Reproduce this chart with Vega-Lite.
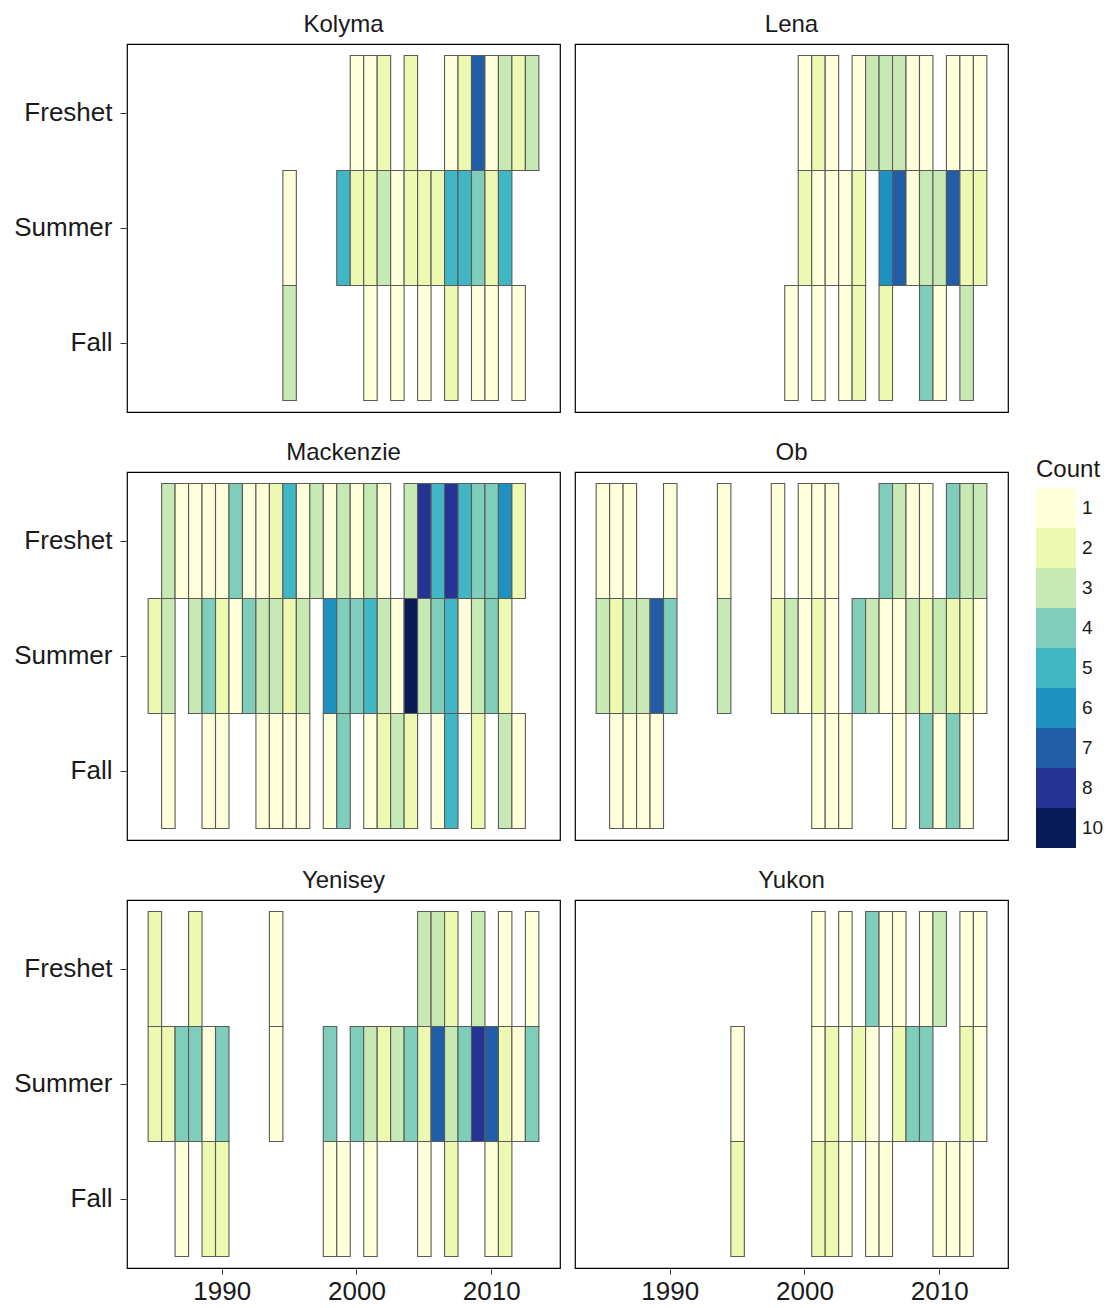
{
  "$schema": "https://vega.github.io/schema/vega-lite/v6.json",
  "padding": {"left": 13, "top": 12, "right": 5, "bottom": 5},
  "background": "white",
  "data": {"values": [
    {"River":"Kolyma","Season":"Freshet","Year":2000,"Count":1},{"River":"Kolyma","Season":"Freshet","Year":2001,"Count":1},{"River":"Kolyma","Season":"Freshet","Year":2002,"Count":2},{"River":"Kolyma","Season":"Freshet","Year":2004,"Count":2},{"River":"Kolyma","Season":"Freshet","Year":2007,"Count":1},{"River":"Kolyma","Season":"Freshet","Year":2008,"Count":2},{"River":"Kolyma","Season":"Freshet","Year":2009,"Count":7},{"River":"Kolyma","Season":"Freshet","Year":2010,"Count":1},{"River":"Kolyma","Season":"Freshet","Year":2011,"Count":3},{"River":"Kolyma","Season":"Freshet","Year":2012,"Count":2},{"River":"Kolyma","Season":"Freshet","Year":2013,"Count":3},
    {"River":"Kolyma","Season":"Summer","Year":1995,"Count":1},{"River":"Kolyma","Season":"Summer","Year":1999,"Count":5},{"River":"Kolyma","Season":"Summer","Year":2000,"Count":2},{"River":"Kolyma","Season":"Summer","Year":2001,"Count":2},{"River":"Kolyma","Season":"Summer","Year":2002,"Count":3},{"River":"Kolyma","Season":"Summer","Year":2003,"Count":1},{"River":"Kolyma","Season":"Summer","Year":2004,"Count":2},{"River":"Kolyma","Season":"Summer","Year":2005,"Count":2},{"River":"Kolyma","Season":"Summer","Year":2006,"Count":2},{"River":"Kolyma","Season":"Summer","Year":2007,"Count":5},{"River":"Kolyma","Season":"Summer","Year":2008,"Count":5},{"River":"Kolyma","Season":"Summer","Year":2009,"Count":4},{"River":"Kolyma","Season":"Summer","Year":2010,"Count":2},{"River":"Kolyma","Season":"Summer","Year":2011,"Count":5},
    {"River":"Kolyma","Season":"Fall","Year":1995,"Count":3},{"River":"Kolyma","Season":"Fall","Year":2001,"Count":1},{"River":"Kolyma","Season":"Fall","Year":2003,"Count":1},{"River":"Kolyma","Season":"Fall","Year":2005,"Count":1},{"River":"Kolyma","Season":"Fall","Year":2007,"Count":2},{"River":"Kolyma","Season":"Fall","Year":2009,"Count":1},{"River":"Kolyma","Season":"Fall","Year":2010,"Count":1},{"River":"Kolyma","Season":"Fall","Year":2012,"Count":1},
    {"River":"Lena","Season":"Freshet","Year":2000,"Count":1},{"River":"Lena","Season":"Freshet","Year":2001,"Count":2},{"River":"Lena","Season":"Freshet","Year":2002,"Count":1},{"River":"Lena","Season":"Freshet","Year":2004,"Count":1},{"River":"Lena","Season":"Freshet","Year":2005,"Count":3},{"River":"Lena","Season":"Freshet","Year":2006,"Count":3},{"River":"Lena","Season":"Freshet","Year":2007,"Count":3},{"River":"Lena","Season":"Freshet","Year":2008,"Count":1},{"River":"Lena","Season":"Freshet","Year":2009,"Count":1},{"River":"Lena","Season":"Freshet","Year":2011,"Count":1},{"River":"Lena","Season":"Freshet","Year":2012,"Count":1},{"River":"Lena","Season":"Freshet","Year":2013,"Count":1},
    {"River":"Lena","Season":"Summer","Year":2000,"Count":2},{"River":"Lena","Season":"Summer","Year":2001,"Count":1},{"River":"Lena","Season":"Summer","Year":2002,"Count":1},{"River":"Lena","Season":"Summer","Year":2003,"Count":1},{"River":"Lena","Season":"Summer","Year":2004,"Count":2},{"River":"Lena","Season":"Summer","Year":2006,"Count":6},{"River":"Lena","Season":"Summer","Year":2007,"Count":7},{"River":"Lena","Season":"Summer","Year":2008,"Count":1},{"River":"Lena","Season":"Summer","Year":2009,"Count":3},{"River":"Lena","Season":"Summer","Year":2010,"Count":3},{"River":"Lena","Season":"Summer","Year":2011,"Count":7},{"River":"Lena","Season":"Summer","Year":2012,"Count":2},{"River":"Lena","Season":"Summer","Year":2013,"Count":2},
    {"River":"Lena","Season":"Fall","Year":1999,"Count":1},{"River":"Lena","Season":"Fall","Year":2001,"Count":1},{"River":"Lena","Season":"Fall","Year":2003,"Count":1},{"River":"Lena","Season":"Fall","Year":2004,"Count":2},{"River":"Lena","Season":"Fall","Year":2006,"Count":2},{"River":"Lena","Season":"Fall","Year":2009,"Count":4},{"River":"Lena","Season":"Fall","Year":2010,"Count":1},{"River":"Lena","Season":"Fall","Year":2012,"Count":3},
    {"River":"Mackenzie","Season":"Freshet","Year":1986,"Count":3},{"River":"Mackenzie","Season":"Freshet","Year":1987,"Count":1},{"River":"Mackenzie","Season":"Freshet","Year":1988,"Count":1},{"River":"Mackenzie","Season":"Freshet","Year":1989,"Count":1},{"River":"Mackenzie","Season":"Freshet","Year":1990,"Count":1},{"River":"Mackenzie","Season":"Freshet","Year":1991,"Count":4},{"River":"Mackenzie","Season":"Freshet","Year":1992,"Count":1},{"River":"Mackenzie","Season":"Freshet","Year":1993,"Count":1},{"River":"Mackenzie","Season":"Freshet","Year":1994,"Count":2},{"River":"Mackenzie","Season":"Freshet","Year":1995,"Count":5},{"River":"Mackenzie","Season":"Freshet","Year":1996,"Count":1},{"River":"Mackenzie","Season":"Freshet","Year":1997,"Count":3},{"River":"Mackenzie","Season":"Freshet","Year":1998,"Count":1},{"River":"Mackenzie","Season":"Freshet","Year":1999,"Count":3},{"River":"Mackenzie","Season":"Freshet","Year":2000,"Count":1},{"River":"Mackenzie","Season":"Freshet","Year":2001,"Count":3},{"River":"Mackenzie","Season":"Freshet","Year":2002,"Count":1},{"River":"Mackenzie","Season":"Freshet","Year":2004,"Count":3},{"River":"Mackenzie","Season":"Freshet","Year":2005,"Count":8},{"River":"Mackenzie","Season":"Freshet","Year":2006,"Count":5},{"River":"Mackenzie","Season":"Freshet","Year":2007,"Count":8},{"River":"Mackenzie","Season":"Freshet","Year":2008,"Count":5},{"River":"Mackenzie","Season":"Freshet","Year":2009,"Count":4},{"River":"Mackenzie","Season":"Freshet","Year":2010,"Count":4},{"River":"Mackenzie","Season":"Freshet","Year":2011,"Count":6},{"River":"Mackenzie","Season":"Freshet","Year":2012,"Count":2},
    {"River":"Mackenzie","Season":"Summer","Year":1985,"Count":2},{"River":"Mackenzie","Season":"Summer","Year":1986,"Count":3},{"River":"Mackenzie","Season":"Summer","Year":1988,"Count":3},{"River":"Mackenzie","Season":"Summer","Year":1989,"Count":4},{"River":"Mackenzie","Season":"Summer","Year":1990,"Count":2},{"River":"Mackenzie","Season":"Summer","Year":1991,"Count":1},{"River":"Mackenzie","Season":"Summer","Year":1992,"Count":4},{"River":"Mackenzie","Season":"Summer","Year":1993,"Count":3},{"River":"Mackenzie","Season":"Summer","Year":1994,"Count":3},{"River":"Mackenzie","Season":"Summer","Year":1995,"Count":2},{"River":"Mackenzie","Season":"Summer","Year":1996,"Count":3},{"River":"Mackenzie","Season":"Summer","Year":1998,"Count":6},{"River":"Mackenzie","Season":"Summer","Year":1999,"Count":4},{"River":"Mackenzie","Season":"Summer","Year":2000,"Count":4},{"River":"Mackenzie","Season":"Summer","Year":2001,"Count":5},{"River":"Mackenzie","Season":"Summer","Year":2002,"Count":3},{"River":"Mackenzie","Season":"Summer","Year":2003,"Count":1},{"River":"Mackenzie","Season":"Summer","Year":2004,"Count":10},{"River":"Mackenzie","Season":"Summer","Year":2005,"Count":3},{"River":"Mackenzie","Season":"Summer","Year":2006,"Count":4},{"River":"Mackenzie","Season":"Summer","Year":2007,"Count":5},{"River":"Mackenzie","Season":"Summer","Year":2008,"Count":1},{"River":"Mackenzie","Season":"Summer","Year":2009,"Count":3},{"River":"Mackenzie","Season":"Summer","Year":2010,"Count":4},{"River":"Mackenzie","Season":"Summer","Year":2011,"Count":2},
    {"River":"Mackenzie","Season":"Fall","Year":1986,"Count":1},{"River":"Mackenzie","Season":"Fall","Year":1989,"Count":1},{"River":"Mackenzie","Season":"Fall","Year":1990,"Count":1},{"River":"Mackenzie","Season":"Fall","Year":1993,"Count":1},{"River":"Mackenzie","Season":"Fall","Year":1994,"Count":1},{"River":"Mackenzie","Season":"Fall","Year":1995,"Count":1},{"River":"Mackenzie","Season":"Fall","Year":1996,"Count":1},{"River":"Mackenzie","Season":"Fall","Year":1998,"Count":1},{"River":"Mackenzie","Season":"Fall","Year":1999,"Count":4},{"River":"Mackenzie","Season":"Fall","Year":2001,"Count":1},{"River":"Mackenzie","Season":"Fall","Year":2002,"Count":2},{"River":"Mackenzie","Season":"Fall","Year":2003,"Count":3},{"River":"Mackenzie","Season":"Fall","Year":2004,"Count":2},{"River":"Mackenzie","Season":"Fall","Year":2006,"Count":1},{"River":"Mackenzie","Season":"Fall","Year":2007,"Count":5},{"River":"Mackenzie","Season":"Fall","Year":2009,"Count":2},{"River":"Mackenzie","Season":"Fall","Year":2011,"Count":3},{"River":"Mackenzie","Season":"Fall","Year":2012,"Count":1},
    {"River":"Ob","Season":"Freshet","Year":1985,"Count":1},{"River":"Ob","Season":"Freshet","Year":1986,"Count":1},{"River":"Ob","Season":"Freshet","Year":1987,"Count":1},{"River":"Ob","Season":"Freshet","Year":1990,"Count":1},{"River":"Ob","Season":"Freshet","Year":1994,"Count":1},{"River":"Ob","Season":"Freshet","Year":1998,"Count":1},{"River":"Ob","Season":"Freshet","Year":2000,"Count":1},{"River":"Ob","Season":"Freshet","Year":2001,"Count":1},{"River":"Ob","Season":"Freshet","Year":2002,"Count":1},{"River":"Ob","Season":"Freshet","Year":2006,"Count":4},{"River":"Ob","Season":"Freshet","Year":2007,"Count":3},{"River":"Ob","Season":"Freshet","Year":2008,"Count":1},{"River":"Ob","Season":"Freshet","Year":2009,"Count":1},{"River":"Ob","Season":"Freshet","Year":2011,"Count":4},{"River":"Ob","Season":"Freshet","Year":2012,"Count":3},{"River":"Ob","Season":"Freshet","Year":2013,"Count":3},
    {"River":"Ob","Season":"Summer","Year":1985,"Count":3},{"River":"Ob","Season":"Summer","Year":1986,"Count":2},{"River":"Ob","Season":"Summer","Year":1987,"Count":3},{"River":"Ob","Season":"Summer","Year":1988,"Count":3},{"River":"Ob","Season":"Summer","Year":1989,"Count":7},{"River":"Ob","Season":"Summer","Year":1990,"Count":4},{"River":"Ob","Season":"Summer","Year":1994,"Count":3},{"River":"Ob","Season":"Summer","Year":1998,"Count":2},{"River":"Ob","Season":"Summer","Year":1999,"Count":3},{"River":"Ob","Season":"Summer","Year":2000,"Count":1},{"River":"Ob","Season":"Summer","Year":2001,"Count":2},{"River":"Ob","Season":"Summer","Year":2002,"Count":1},{"River":"Ob","Season":"Summer","Year":2004,"Count":4},{"River":"Ob","Season":"Summer","Year":2005,"Count":3},{"River":"Ob","Season":"Summer","Year":2006,"Count":1},{"River":"Ob","Season":"Summer","Year":2007,"Count":1},{"River":"Ob","Season":"Summer","Year":2008,"Count":3},{"River":"Ob","Season":"Summer","Year":2009,"Count":2},{"River":"Ob","Season":"Summer","Year":2010,"Count":3},{"River":"Ob","Season":"Summer","Year":2011,"Count":2},{"River":"Ob","Season":"Summer","Year":2012,"Count":2},{"River":"Ob","Season":"Summer","Year":2013,"Count":1},
    {"River":"Ob","Season":"Fall","Year":1986,"Count":1},{"River":"Ob","Season":"Fall","Year":1987,"Count":1},{"River":"Ob","Season":"Fall","Year":1988,"Count":1},{"River":"Ob","Season":"Fall","Year":1989,"Count":1},{"River":"Ob","Season":"Fall","Year":2001,"Count":1},{"River":"Ob","Season":"Fall","Year":2002,"Count":1},{"River":"Ob","Season":"Fall","Year":2003,"Count":1},{"River":"Ob","Season":"Fall","Year":2007,"Count":1},{"River":"Ob","Season":"Fall","Year":2009,"Count":4},{"River":"Ob","Season":"Fall","Year":2010,"Count":1},{"River":"Ob","Season":"Fall","Year":2011,"Count":4},{"River":"Ob","Season":"Fall","Year":2012,"Count":1},
    {"River":"Yenisey","Season":"Freshet","Year":1985,"Count":2},{"River":"Yenisey","Season":"Freshet","Year":1988,"Count":2},{"River":"Yenisey","Season":"Freshet","Year":1994,"Count":1},{"River":"Yenisey","Season":"Freshet","Year":2005,"Count":3},{"River":"Yenisey","Season":"Freshet","Year":2006,"Count":3},{"River":"Yenisey","Season":"Freshet","Year":2007,"Count":2},{"River":"Yenisey","Season":"Freshet","Year":2009,"Count":3},{"River":"Yenisey","Season":"Freshet","Year":2011,"Count":1},{"River":"Yenisey","Season":"Freshet","Year":2013,"Count":1},
    {"River":"Yenisey","Season":"Summer","Year":1985,"Count":2},{"River":"Yenisey","Season":"Summer","Year":1986,"Count":2},{"River":"Yenisey","Season":"Summer","Year":1987,"Count":4},{"River":"Yenisey","Season":"Summer","Year":1988,"Count":4},{"River":"Yenisey","Season":"Summer","Year":1989,"Count":1},{"River":"Yenisey","Season":"Summer","Year":1990,"Count":4},{"River":"Yenisey","Season":"Summer","Year":1994,"Count":1},{"River":"Yenisey","Season":"Summer","Year":1998,"Count":4},{"River":"Yenisey","Season":"Summer","Year":2000,"Count":4},{"River":"Yenisey","Season":"Summer","Year":2001,"Count":3},{"River":"Yenisey","Season":"Summer","Year":2002,"Count":2},{"River":"Yenisey","Season":"Summer","Year":2003,"Count":3},{"River":"Yenisey","Season":"Summer","Year":2004,"Count":4},{"River":"Yenisey","Season":"Summer","Year":2005,"Count":2},{"River":"Yenisey","Season":"Summer","Year":2006,"Count":7},{"River":"Yenisey","Season":"Summer","Year":2007,"Count":3},{"River":"Yenisey","Season":"Summer","Year":2008,"Count":4},{"River":"Yenisey","Season":"Summer","Year":2009,"Count":8},{"River":"Yenisey","Season":"Summer","Year":2010,"Count":7},{"River":"Yenisey","Season":"Summer","Year":2011,"Count":2},{"River":"Yenisey","Season":"Summer","Year":2012,"Count":1},{"River":"Yenisey","Season":"Summer","Year":2013,"Count":4},
    {"River":"Yenisey","Season":"Fall","Year":1987,"Count":1},{"River":"Yenisey","Season":"Fall","Year":1989,"Count":2},{"River":"Yenisey","Season":"Fall","Year":1990,"Count":2},{"River":"Yenisey","Season":"Fall","Year":1998,"Count":1},{"River":"Yenisey","Season":"Fall","Year":1999,"Count":1},{"River":"Yenisey","Season":"Fall","Year":2001,"Count":1},{"River":"Yenisey","Season":"Fall","Year":2005,"Count":1},{"River":"Yenisey","Season":"Fall","Year":2007,"Count":2},{"River":"Yenisey","Season":"Fall","Year":2010,"Count":1},{"River":"Yenisey","Season":"Fall","Year":2011,"Count":2},
    {"River":"Yukon","Season":"Freshet","Year":2001,"Count":1},{"River":"Yukon","Season":"Freshet","Year":2003,"Count":1},{"River":"Yukon","Season":"Freshet","Year":2005,"Count":4},{"River":"Yukon","Season":"Freshet","Year":2006,"Count":1},{"River":"Yukon","Season":"Freshet","Year":2007,"Count":1},{"River":"Yukon","Season":"Freshet","Year":2009,"Count":1},{"River":"Yukon","Season":"Freshet","Year":2010,"Count":3},{"River":"Yukon","Season":"Freshet","Year":2012,"Count":1},{"River":"Yukon","Season":"Freshet","Year":2013,"Count":1},
    {"River":"Yukon","Season":"Summer","Year":1995,"Count":1},{"River":"Yukon","Season":"Summer","Year":2001,"Count":1},{"River":"Yukon","Season":"Summer","Year":2002,"Count":2},{"River":"Yukon","Season":"Summer","Year":2004,"Count":2},{"River":"Yukon","Season":"Summer","Year":2005,"Count":1},{"River":"Yukon","Season":"Summer","Year":2007,"Count":2},{"River":"Yukon","Season":"Summer","Year":2008,"Count":4},{"River":"Yukon","Season":"Summer","Year":2009,"Count":4},{"River":"Yukon","Season":"Summer","Year":2012,"Count":2},{"River":"Yukon","Season":"Summer","Year":2013,"Count":1},
    {"River":"Yukon","Season":"Fall","Year":1995,"Count":2},{"River":"Yukon","Season":"Fall","Year":2001,"Count":2},{"River":"Yukon","Season":"Fall","Year":2002,"Count":2},{"River":"Yukon","Season":"Fall","Year":2003,"Count":1},{"River":"Yukon","Season":"Fall","Year":2005,"Count":1},{"River":"Yukon","Season":"Fall","Year":2006,"Count":1},{"River":"Yukon","Season":"Fall","Year":2010,"Count":1},{"River":"Yukon","Season":"Fall","Year":2011,"Count":1},{"River":"Yukon","Season":"Fall","Year":2012,"Count":1}
  ]},
  "columns": 2,
  "spacing": {"column": 13, "row": 27},
  "facet": {
    "field": "River", "type": "nominal",
    "sort": ["Kolyma", "Lena", "Mackenzie", "Ob", "Yenisey", "Yukon"],
    "header": {"title": null, "labelFontSize": 24, "labelFont": "Liberation Sans", "labelColor": "#1a1a1a", "labelPadding": 7}
  },
  "spec": {
    "width": 433,
    "height": 368,
    "mark": {"type": "rect", "stroke": "#5a5a5a", "strokeWidth": 1.1},
    "encoding": {
      "x": {
        "field": "Year", "type": "ordinal",
        "scale": {"domain": [1984,1985,1986,1987,1988,1989,1990,1991,1992,1993,1994,1995,1996,1997,1998,1999,2000,2001,2002,2003,2004,2005,2006,2007,2008,2009,2010,2011,2012,2013,2014], "paddingInner": 0, "paddingOuter": 0.57},
        "axis": {"title": null, "values": [1990, 2000, 2010], "labelAngle": 0, "labelFontSize": 26, "labelPadding": 4, "tickSize": 5}
      },
      "y": {
        "field": "Season", "type": "ordinal",
        "scale": {"domain": ["Freshet", "Summer", "Fall"], "paddingInner": 0, "paddingOuter": 0.1},
        "axis": {"title": null, "labelFontSize": 26, "labelPadding": 8, "tickSize": 6}
      },
      "color": {
        "field": "Count", "type": "ordinal",
        "scale": {"domain": [1, 2, 3, 4, 5, 6, 7, 8, 10], "range": ["#ffffd9", "#edf8b1", "#c7e9b4", "#7fcdbb", "#41b6c4", "#1d91c0", "#225ea8", "#253494", "#081d58"]},
        "legend": {
          "title": "Count", "orient": "none", "legendX": 909, "legendY": 414,
          "symbolType": "square", "symbolSize": 1600, "symbolStrokeWidth": 0, "symbolOpacity": 1,
          "rowPadding": 0, "labelFontSize": 19, "labelOffset": 6, "titleFontSize": 24, "titlePadding": 6,
          "titleFontWeight": "normal", "titleColor": "#1a1a1a", "labelColor": "#1a1a1a"
        }
      }
    }
  },
  "config": {
    "font": "Liberation Sans",
    "view": {"stroke": "#000000", "strokeWidth": 1.2},
    "axis": {"labelFont": "Liberation Sans", "labelColor": "#1a1a1a", "tickColor": "#333333", "domainColor": "#000000", "domain": false, "grid": false, "labelFontWeight": "normal"},
    "legend": {"titleFont": "Liberation Sans", "labelFont": "Liberation Sans"}
  }
}
